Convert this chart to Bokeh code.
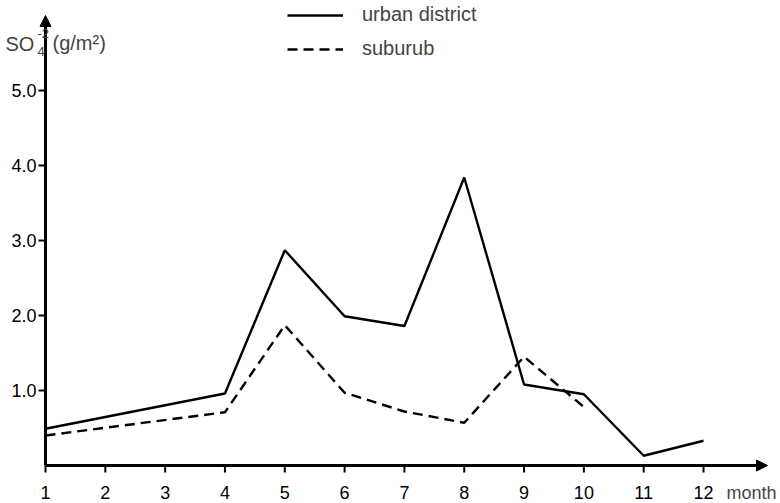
from bokeh.plotting import figure
from bokeh.models import (Range1d, Arrow, NormalHead, Label, Legend, LegendItem,
                          ColumnDataSource)
from bokeh.core.properties import value
from bokeh.embed import file_html
from bokeh.resources import INLINE

# ---- data ----
urban_months = [1, 4, 5, 6, 7, 8, 9, 10, 11, 12]
urban_values = [0.49, 0.96, 2.87, 1.99, 1.86, 3.84, 1.08, 0.95, 0.13, 0.33]
suburb_months = [1, 4, 5, 6, 7, 8, 9, 10]
suburb_values = [0.40, 0.71, 1.87, 0.97, 0.72, 0.57, 1.45, 0.78]
x_ticks = [1, 2, 3, 4, 5, 6, 7, 8, 9, 10, 11, 12]
x_tick_labels = ["1", "2", "3", "4", "5", "6", "7", "8", "9", "10", "11", "12"]
y_ticks = [1, 2, 3, 4, 5]
y_tick_labels = ["1.0", "2.0", "3.0", "4.0", "5.0"]
series_names = ["urban district", "suburub"]

FONT = "Liberation Sans"
PX_X = 59.82   # pixels per month
PX_Y = 75.0    # pixels per unit

def dx(px):
    return px / PX_X

def dy(px):
    return px / PX_Y

p = figure(width=780, height=503, output_backend="svg", toolbar_location=None,
           x_range=Range1d(1 - dx(45), 1 + dx(735)),
           y_range=Range1d(-dy(38), dy(465)),
           x_axis_location=None, y_axis_location=None,
           min_border=0)
p.outline_line_color = None
p.grid.visible = False
p.background_fill_color = "white"
p.border_fill_color = "white"

# axis lines with arrow heads
p.add_layout(Arrow(x_start=1, y_start=0, x_end=13.07, y_end=0, line_width=3,
                   end=NormalHead(size=11, fill_color="black", line_color="black")))
p.add_layout(Arrow(x_start=1, y_start=0, x_end=1, y_end=6.0, line_width=3,
                   end=NormalHead(size=11, fill_color="black", line_color="black")))

# ticks and tick labels (through the data scales)
xs = ColumnDataSource(dict(x=x_ticks, lab=x_tick_labels))
p.segment(x0="x", y0=0, x1="x", y1=-dy(7), source=xs, line_color="black",
          line_width=2)
p.text(x="x", y=-dy(27), text="lab", source=xs, text_align="center",
       text_baseline="alphabetic", text_font=value(FONT),
       text_font_size="18px", text_color="black")

ys = ColumnDataSource(dict(y=y_ticks, lab=y_tick_labels))
p.segment(x0=1 - dx(7), y0="y", x1=1, y1="y", source=ys, line_color="black",
          line_width=2)
p.text(x=1 - dx(9), y="y", text="lab", source=ys, text_align="right",
       text_baseline="middle", text_font=value(FONT),
       text_font_size="18px", text_color="black")

# series
r1 = p.line(urban_months, urban_values, line_color="black", line_width=2.4)
r2 = p.line(suburb_months, suburb_values, line_color="black", line_width=2.4,
            line_dash="10 6")

legend = Legend(items=[LegendItem(label=series_names[0], renderers=[r1]),
                       LegendItem(label=series_names[1], renderers=[r2])],
                location=(287, 443), orientation="vertical",
                glyph_width=56, glyph_height=20, label_height=20,
                spacing=11, padding=0, margin=0, label_standoff=19,
                border_line_color=None, background_fill_alpha=0,
                label_text_font=FONT, label_text_font_size="20px")
p.add_layout(legend)

# axis titles
def xd(px):
    return 1 + (px - 45) / PX_X

def yd(py):
    return (465 - py) / PX_Y

p.add_layout(Label(x=xd(5), y=yd(43), text="SO", text_font=FONT,
                   text_font_size="20px", text_baseline="alphabetic"))
p.add_layout(Label(x=xd(37), y=yd(51), text="4", text_font=FONT,
                   text_font_size="13px", text_baseline="alphabetic"))
p.add_layout(Label(x=xd(37), y=yd(33), text="-2", text_font=FONT,
                   text_font_size="13px", text_baseline="alphabetic"))
p.add_layout(Label(x=xd(52), y=yd(42), text="(g/m²)", text_font=FONT,
                   text_font_size="20px", text_baseline="alphabetic"))
p.add_layout(Label(x=xd(726), y=yd(492), text="month", text_font=FONT,
                   text_font_size="18px", text_baseline="alphabetic"))

open("out.html", "w").write(file_html(p, INLINE))
